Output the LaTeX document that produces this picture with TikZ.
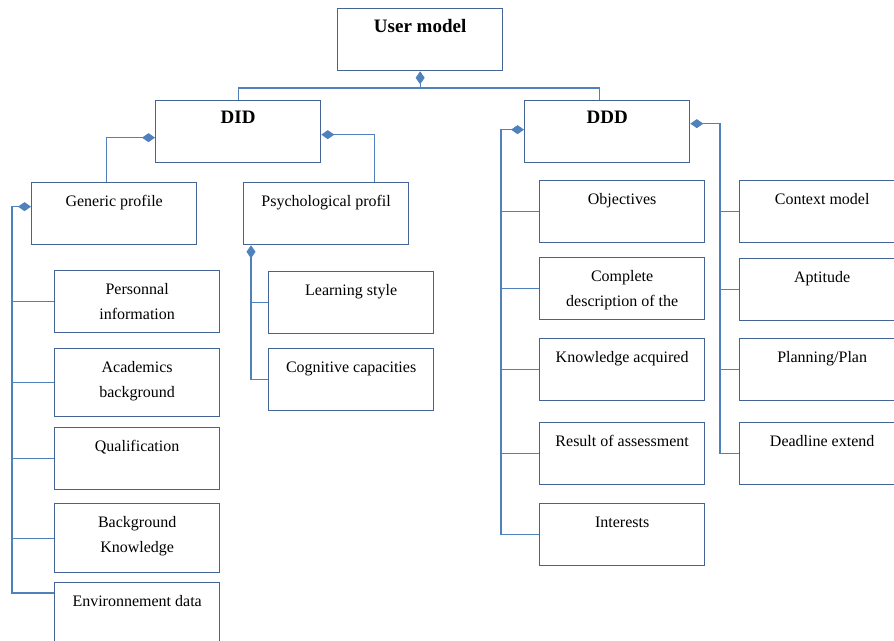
\documentclass[tikz,border=0pt]{standalone}
\usepackage{fontspec}
\setmainfont{Liberation Serif}
\usetikzlibrary{positioning,arrows.meta}
\definecolor{cadre}{RGB}{68,100,150}
\definecolor{bleulien}{RGB}{79,129,189}

\begin{document}
\begin{tikzpicture}[x=1pt, y=-1pt,
  boite/.style={draw=cadre, line width=1.3pt, rectangle, anchor=north west, minimum width=165pt, minimum height=62pt, inner sep=0pt},
  txt/.style={anchor=north, yshift=-10pt, align=center, font=\fontsize{16}{25}\selectfont},
  titre/.style={anchor=north, yshift=-8pt, font=\fontsize{19}{23}\selectfont\bfseries},
  lien/.style={draw=bleulien, line width=1.2pt},
  compo/.style={lien, {Diamond[length=13pt,width=9pt]}-}]
	\path[use as bounding box, fill=white] (0,0) rectangle (894,640);
	
	% Niveaux superieurs
	\node[boite, label={[titre]north:User model}] (um) at (337,8) {};
	\node[boite, label={[titre]north:DID}] (did) at (155,100) {};
	\node[boite, label={[titre]north:DDD}] (ddd) at (524,100) {};
	\node[boite, label={[txt]north:Generic profile}] (gp) at (31,182) {};
	\node[boite, label={[txt]north:Psychological profil}] (pp) at (243,182) {};
	
	% Profil generique
	\foreach \nom/\y/\h/\texte in {perso/270/62/{Personnal\\information}, acad/348/68/{Academics\\background}, qualif/427/62/{Qualification}, bgk/503/69/{Background\\Knowledge}, env/582/70/{Environnement data}} {
		\node[boite, minimum height=\h pt, label={[txt]north:{\texte}}] (\nom) at (54,\y) {};
	}
	
	% Profil psychologique
	\node[boite, label={[txt]north:Learning style}] (learn) at (268,271) {};
	\node[boite, label={[txt]north:Cognitive capacities}] (cog) at (268,348) {};
	
	% Colonnes DDD
	\foreach \nom/\y/\texte in {obj/180/{Objectives}, compl/257/{Complete\\description of the}, know/338/{Knowledge acquired}, res/422/{Result of assessment}, inter/503/{Interests}} {
		\node[boite, label={[txt]north:{\texte}}] (\nom) at (539,\y) {};
	}
	\foreach \nom/\y/\texte in {ctx/180/{Context model}, apt/258/{Aptitude}, plan/338/{Planning/Plan}, dead/422/{Deadline extend}} {
		\node[boite, label={[txt]north:{\texte}}] (\nom) at (739,\y) {};
	}
	
	% Liens
	\coordinate (bus) at (0,88);
	\coordinate (dddh) at ([xshift=-8pt]ddd.north);
	\draw[compo] (um.south) -- (um.south |- bus);
	\draw[lien] (did.north) -- (did.north |- bus) -- (dddh |- bus) -- (dddh);
	
	\draw[compo] ([yshift=-6pt]did.west) -| ([xshift=-8pt]gp.north);
	\draw[compo] ([yshift=-3pt]did.east) -| ([xshift=48pt]pp.north);
	
	\coordinate (tg) at (12,0);
	\coordinate (envb) at ([yshift=-11pt]env.north west);
	\draw[compo] ([yshift=7pt]gp.west) -| (tg |- envb) -- (envb);
	\foreach \c in {perso,acad,qualif,bgk} {
		\draw[lien] (tg |- \c.west) -- (\c.west);
	}
	
	\coordinate (tp) at (251,0);
	\draw[compo] (tp |- pp.south) -- (tp |- cog.west) -- (cog.west);
	\draw[lien] (tp |- learn.west) -- (learn.west);
	
	\coordinate (tm) at (501,0);
	\draw[compo] ([yshift=2pt]ddd.west) -| (tm |- inter.west) -- (inter.west);
	\foreach \c in {obj,compl,know,res} {
		\draw[lien] (tm |- \c.west) -- (\c.west);
	}
	
	\coordinate (tr) at (720,0);
	\draw[compo] ([yshift=8pt]ddd.east) -| (tr |- dead.west) -- (dead.west);
	\foreach \c in {ctx,apt,plan} {
		\draw[lien] (tr |- \c.west) -- (\c.west);
	}
\end{tikzpicture}
\end{document}
